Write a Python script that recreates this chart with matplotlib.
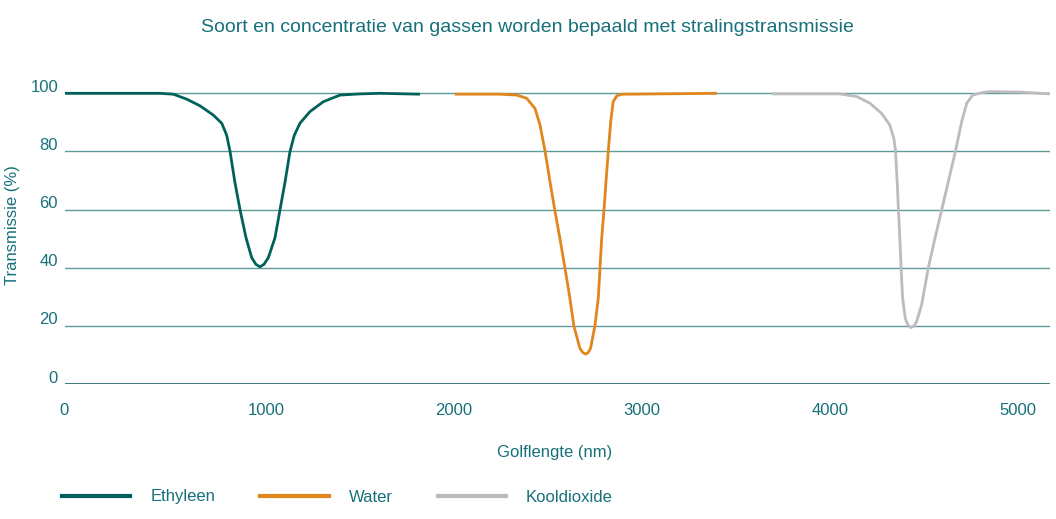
import numpy as np
import matplotlib
matplotlib.use('Agg')
import matplotlib.pyplot as plt
from matplotlib.lines import Line2D
import matplotlib.transforms as mtransforms

plt.rcParams['font.family'] = ['Liberation Sans', 'DejaVu Sans']

# Data (golflengte in nm, transmissie in %)
ethyleen_nm = [0, 505, 576, 647, 718, 789, 834, 860, 878, 904, 931, 963, 993, 1015, 1037,
               1059, 1082, 1117, 1144, 1170, 1197, 1220, 1250, 1303, 1374, 1463, 1569, 1676, 1888]
ethyleen_t = [100, 100, 99.7, 98, 95.7, 92.5, 89.7, 85.6, 80, 69.3, 60, 50.3, 43.5, 41.2, 40.3,
              41.2, 43.5, 50.3, 60, 69.3, 80, 85.6, 89.7, 93.7, 97.1, 99.4, 99.8, 100, 99.7]

water_nm = [2074, 2314, 2403, 2456, 2500, 2527, 2553, 2580, 2606, 2633, 2660, 2686, 2707,
            2739, 2755, 2770, 2783, 2796, 2819, 2837, 2846, 2855, 2867, 2878, 2890, 2903,
            2916, 2935, 2961, 3005, 3468]
water_t = [99.7, 99.7, 99.4, 98.3, 94.8, 89.1, 80.4, 69.6, 59.7, 50, 39.8, 29.5, 20,
           12.3, 10.8, 10.3, 10.8, 12.3, 20, 29.5, 39.8, 50, 59.7, 69.6, 80, 90.2,
           97.1, 99.1, 99.7, 99.7, 100]

co2_nm = [3761, 4122, 4211, 4282, 4344, 4388, 4409, 4418, 4427, 4434, 4441, 4448, 4456,
          4470, 4484, 4498, 4514, 4530, 4557, 4592, 4628, 4663, 4699, 4738, 4770, 4797,
          4829, 4882, 4920, 5080, 5239]
co2_t = [99.8, 99.8, 98.9, 96.6, 93.1, 89.1, 84.5, 80.4, 69.6, 59.7, 50.1, 39.8, 29.5,
         22.6, 20.3, 19.4, 19.8, 21.4, 27.2, 39.8, 50.1, 59.7, 69.6, 80.4, 90.2, 96.6,
         99.4, 100.3, 100.6, 100.4, 99.8]

series_names = ['Ethyleen', 'Water', 'Kooldioxide']
series_colors = ['#00615b', '#e0861c', '#bcbcc0']
x_ticks = [0, 1000, 2000, 3000, 4000, 5000]
y_ticks = [0, 20, 40, 60, 80, 100]

text_color = '#17707a'
grid_color = '#5f9c98'

fig = plt.figure(figsize=(10.56, 5.19), dpi=100)
ax = fig.add_axes([65 / 1056, 135 / 519, 985 / 1056, 296.5 / 519])

for xs, ys, c in zip([ethyleen_nm, water_nm, co2_nm], [ethyleen_t, water_t, co2_t], series_colors):
    ax.plot(xs, ys, color=c, lw=2.0, solid_capstyle='butt', solid_joinstyle='round', zorder=3)

ax.set_xlim(0, 5240)
ax.set_ylim(0, 102)

for y in y_ticks[1:]:
    ax.axhline(y, color=grid_color, lw=1.0, zorder=1)
ax.axhline(0, color='#2d6f6c', lw=1.3, zorder=1)

for s in ax.spines.values():
    s.set_visible(False)

ax.set_xticks(x_ticks)
ax.set_xticklabels([str(v) for v in x_ticks], ha='left')
ax.set_yticks(y_ticks)
ax.set_yticklabels([str(v) for v in y_ticks], va='baseline')
ax.tick_params(axis='both', length=0, labelsize=12, labelcolor=text_color)
ax.tick_params(axis='x', pad=14)
ax.tick_params(axis='y', pad=5)

# labels sit a little left of their tick / just above their gridline
dx = mtransforms.ScaledTranslation(-4 / 72, 0, fig.dpi_scale_trans)
for lab in ax.get_xticklabels():
    lab.set_transform(lab.get_transform() + dx)
dy = mtransforms.ScaledTranslation(0, 1 / 72, fig.dpi_scale_trans)
for lab in ax.get_yticklabels():
    lab.set_transform(lab.get_transform() + dy)

fig.text(527 / 1056, 1 - 27 / 519, 'Soort en concentratie van gassen worden bepaald met stralingstransmissie',
         ha='center', va='center', fontsize=14, color=text_color)
fig.text(555 / 1056, 1 - 452 / 519, 'Golflengte (nm)', ha='center', va='center',
         fontsize=12, color=text_color)
fig.text(13 / 1056, 1 - 225 / 519, 'Transmissie (%)', ha='center', va='center',
         rotation=90, fontsize=12, color=text_color)

handles = [Line2D([], [], color=c, lw=3) for c in series_colors]
leg = fig.legend(handles, series_names, loc='center left',
                 bbox_to_anchor=(62 / 1056, 1 - 497 / 519), ncol=3, frameon=False,
                 fontsize=12, handlelength=4.1, handletextpad=1.2, columnspacing=2.7,
                 borderpad=0, borderaxespad=0)
for t in leg.get_texts():
    t.set_color(text_color)

plt.savefig('out.png', dpi=100)
